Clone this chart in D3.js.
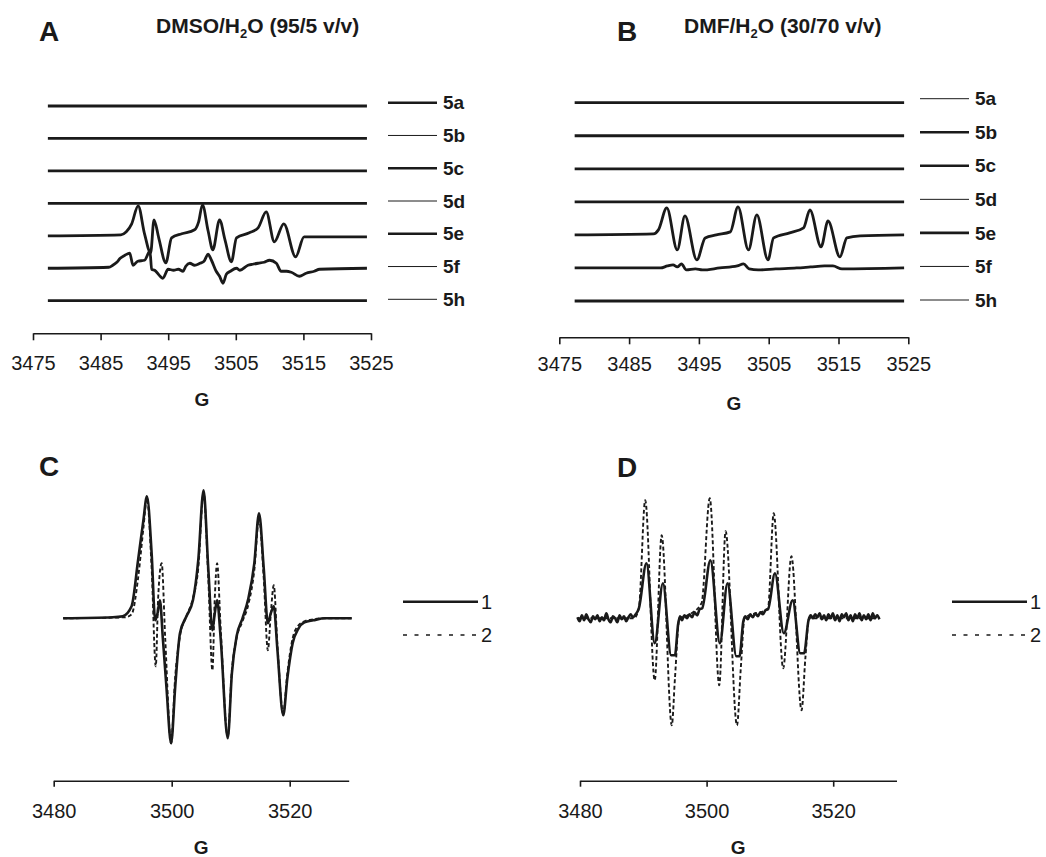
<!DOCTYPE html>
<html><head><meta charset="utf-8">
<script src="https://cdn.jsdelivr.net/npm/d3@7"></script>
<style>
body{margin:0;background:#fff}
svg{display:block}
text{font-family:"Liberation Sans",Arial,Helvetica,sans-serif;fill:#1a1a1a}
</style>
</head><body>
<svg id="chart" width="1046" height="857"></svg>
<script>
// ---------------- DATA ----------------
const seriesNames = ["5a","5b","5c","5d","5e","5f","5h"];
const ticksAB = [3475,3485,3495,3505,3515,3525];
const ticksCD = [3480,3500,3520];
const legendCD = ["1","2"];
const titleA = ["DMSO/H","2","O (95/5 v/v)"];
const titleB = ["DMF/H","2","O (30/70 v/v)"];

// panel A traces: [field G, signal (a.u.)]
const A_flat = [[3477.2,0],[3524.4,0]];
const A_5e = [[3477.2,0],[3488.0,1],[3488.8,4],[3489.6,12],[3490.55,30],[3491.5,2],[3492.4,-17],[3492.9,16],[3493.6,-2],[3494.65,-27],[3495.5,-2],[3497,2],[3498.9,6],[3499.5,14],[3500.07,31],[3500.9,5],[3501.6,-14],[3502.6,16],[3503.4,-4],[3504.35,-26],[3505.1,-2],[3507,3],[3508.3,8],[3509.5,24],[3510.7,-6],[3512.1,12],[3513.85,-21],[3515.1,-1],[3524.4,-1]];
const A_5f = [[3477.2,0],[3486.2,1],[3486.8,3],[3487.4,6],[3487.9,10],[3488.6,13],[3489.3,15],[3489.8,3],[3490.5,7],[3491.5,8],[3492.3,17],[3492.55,-1],[3493.0,-2],[3493.8,-8],[3494.2,-10],[3495.0,-1],[3495.8,-2],[3496.5,-1],[3497.2,-3],[3497.6,2],[3498.2,5],[3498.9,3],[3499.7,5],[3500.3,7],[3500.9,14],[3501.4,8],[3502.1,-3],[3502.6,-8],[3503.1,-15],[3503.6,-6],[3504.2,-3],[3505.1,0],[3505.6,-2],[3506.8,3],[3507.5,4],[3508.3,5],[3509.2,6],[3510,8],[3511,5],[3511.7,-3],[3512.5,-3],[3513.2,-4],[3514.4,-8],[3515.4,-5],[3516.6,-3],[3517.4,-1],[3524.4,0]];
const A_series = [A_flat,A_flat,A_flat,A_flat,A_5e,A_5f,A_flat];

// panel B traces
const B_flat = [[3477.2,0],[3524.4,0]];
const B_5e = [[3477.2,0],[3488.5,1],[3489.2,5],[3490.4,27],[3491.9,-15],[3493.0,19],[3494.7,-25],[3495.9,-3],[3497.5,0],[3499.5,3],[3500.6,28],[3502.1,-15],[3503.3,20],[3504.9,-25],[3505.7,-3],[3508,2],[3510,7],[3510.9,25],[3512.5,-12],[3513.5,14],[3515.2,-22],[3516.2,-3],[3518.1,-1],[3524.4,0]];
const B_5f = [[3477.2,0],[3489.5,0],[3490.5,2],[3491.3,3],[3491.9,1],[3492.5,4],[3493.2,-2],[3494.5,-1],[3495.5,-2],[3498,0],[3500.5,2],[3501.4,4],[3502.2,-1],[3503.5,-2],[3506,-1],[3509,0],[3511,1],[3513,2],[3514.2,2],[3515.5,-1],[3524.4,0]];
const B_series = [B_flat,B_flat,B_flat,B_flat,B_5e,B_5f,B_flat];

// panel C traces
const C_1 = [[3481.6,0],[3490,1],[3491.7,2],[3493.2,12],[3494.3,58],[3495.2,98],[3495.8,122],[3496.6,65],[3497.2,-2],[3497.6,5],[3498.0,18],[3498.5,-20],[3499.1,-68],[3499.9,-125],[3500.6,-68],[3501.4,-15],[3502.5,2],[3503.6,18],[3504.5,58],[3505.4,128],[3506.2,50],[3506.9,-12],[3507.3,5],[3507.7,18],[3508.3,-20],[3509.5,-120],[3510.2,-55],[3511,-18],[3512,0],[3513,20],[3514,55],[3514.8,105],[3515.6,50],[3516.3,-5],[3516.8,5],[3517.3,12],[3517.9,-30],[3518.9,-97],[3519.6,-60],[3520.5,-25],[3521.5,-10],[3522.5,-4],[3524,-2],[3526,0],[3530.5,0]];
const C_2 = [[3481.6,0],[3492,1],[3493.2,4],[3494.3,40],[3495.2,90],[3495.8,120],[3496.6,50],[3497.3,-48],[3497.7,20],[3498.3,55],[3498.9,-20],[3499.9,-125],[3500.6,-58],[3501.4,-18],[3502.5,2],[3503.5,18],[3504.5,50],[3505.4,126],[3506.2,40],[3506.9,-52],[3507.3,20],[3507.7,55],[3508.3,-10],[3509.5,-118],[3510.2,-52],[3511,-20],[3512,-3],[3513,14],[3514,48],[3514.8,100],[3515.6,40],[3516.3,-32],[3516.8,5],[3517.3,33],[3517.9,-25],[3518.9,-95],[3519.6,-55],[3520.5,-20],[3521.5,-7],[3522.5,-3],[3524,-1],[3526,0],[3530.5,0]];

// panel D traces
const D_1 = [[3479.6,1],[3479.95,-3],[3480.3,3],[3480.65,-2],[3481.0,4],[3481.35,-1],[3481.7,-4],[3482.05,2],[3482.4,-1],[3482.75,3],[3483.1,-3],[3483.45,1],[3483.8,-2],[3484.15,5],[3484.5,-1],[3484.85,-4],[3485.2,2],[3485.55,0],[3485.9,-4],[3486.25,3],[3486.6,-1],[3486.95,2],[3487.3,-3],[3487.65,1],[3488.0,4],[3488.35,1],[3488.8,4],[3489.3,10],[3490.5,55],[3491.8,-25],[3493.1,35],[3494.4,-37],[3495.0,-37],[3495.5,-6],[3495.8,2],[3496.1,-2],[3496.5,3],[3496.9,0],[3497.3,4],[3497.7,1],[3498.1,6],[3498.5,3],[3498.9,9],[3499.3,10],[3500.6,58],[3502.1,-25],[3503.3,35],[3504.7,-38],[3505.2,-38],[3505.8,-3],[3506.1,2],[3506.5,-1],[3506.9,4],[3507.3,1],[3507.7,5],[3508.1,2],[3508.5,6],[3508.9,4],[3509.3,8],[3509.7,9],[3510.8,45],[3512.2,-15],[3513.6,18],[3514.8,-35],[3515.4,-35],[3516.1,-2],[3516.45,3],[3516.8,0],[3517.15,4],[3517.5,1],[3517.85,5],[3518.2,-1],[3518.55,3],[3518.9,-2],[3519.25,4],[3519.6,0],[3519.95,5],[3520.3,-2],[3520.65,3],[3521.0,-3],[3521.35,4],[3521.7,1],[3522.05,5],[3522.4,-2],[3522.75,3],[3523.1,-3],[3523.45,4],[3523.8,0],[3524.15,5],[3524.5,-2],[3524.85,3],[3525.2,-1],[3525.55,4],[3525.9,-2],[3526.25,5],[3526.6,0],[3526.95,3],[3527.3,-1]];
const D_2 = [[3479.6,0],[3488.5,0],[3489.3,10],[3490.3,118],[3491.8,-62],[3492.9,83],[3494.5,-107],[3495.0,-60],[3495.7,0],[3497,3],[3499.2,15],[3500.5,120],[3502.0,-67],[3503.0,87],[3504.8,-107],[3505.4,-50],[3506,0],[3509.7,10],[3510.6,105],[3512.1,-50],[3513.4,62],[3515.0,-92],[3515.6,-40],[3516.2,0],[3527.3,0]];

// styles (separate from data)
const legendWidthA = [2.6,1,2.6,1,2.6,1,1];
const legendWidthB = [1,2.6,2.6,1,2.6,1,1];
const INK = "#1a1a1a";

// ---------------- DRAW ----------------
const svg = d3.select("#chart");
const curve = d3.curveMonotoneX;

function title(x, y, letter, parts, lx) {
  svg.append("text").attr("x", lx).attr("y", y + 8).attr("font-size", 28).attr("font-weight", "bold").text(letter);
  if (parts) {
    const t = svg.append("text").attr("x", x).attr("y", y).attr("font-size", 21).attr("font-weight", "bold");
    t.append("tspan").text(parts[0]);
    t.append("tspan").attr("font-size", 13).attr("dy", 5).text(parts[1]);
    t.append("tspan").attr("dy", -5).text(parts[2]);
  }
}

function axis(x, yAxis, ticks, tickSize, pad, gx) {
  const g = svg.append("g").attr("transform", `translate(0,${yAxis})`)
    .call(d3.axisBottom(x).tickValues(ticks).tickSize(tickSize).tickSizeOuter(0).tickPadding(pad).tickFormat(d3.format("d")));
  g.select(".domain").attr("stroke", INK).attr("stroke-width", 1.6);
  g.selectAll(".tick line").attr("stroke", INK).attr("stroke-width", 1.6);
  g.selectAll(".tick text").attr("font-size", 20).attr("fill", INK)
    .style("font-family", '"Liberation Sans",Arial,sans-serif');
  svg.append("text").attr("x", gx).attr("y", yAxis + 73).attr("text-anchor", "middle")
    .attr("font-size", 19).attr("font-weight", "bold").text("G");
}

function stacked(xRange, yRange, legRange, legX, series, legW, axisY, pad) {
  const x = d3.scaleLinear().domain([3475, 3525]).range(xRange);
  const yb = d3.scalePoint().domain(seriesNames).range(yRange);
  const yl = d3.scalePoint().domain(seriesNames).range(legRange);
  const amp = d3.scaleLinear().domain([-30, 30]).range([30, -30]);
  seriesNames.forEach((n, i) => {
    const line = d3.line().curve(curve).x(d => x(d[0])).y(d => yb(n) + amp(d[1]));
    svg.append("path").datum(series[i]).attr("d", line)
      .attr("fill", "none").attr("stroke", INK).attr("stroke-width", 2.8).attr("stroke-linejoin", "round");
    svg.append("line").attr("x1", legX).attr("x2", legX + 49).attr("y1", yl(n)).attr("y2", yl(n))
      .attr("stroke", INK).attr("stroke-width", legW[i]);
    svg.append("text").attr("x", legX + 55).attr("y", yl(n)).attr("dy", "0.35em")
      .attr("font-size", 19).attr("font-weight", "bold").text(n);
  });
  axis(x, axisY, ticksAB, 7, pad, (xRange[0] + xRange[1]) / 2);
}

function overlay(xRange, axisEnd, base, s1, s2, legX) {
  const x = d3.scaleLinear().domain([3480, 3530]).range(xRange);
  const y = d3.scaleLinear().domain([-130, 130]).range([base + 130, base - 130]);
  const line = d3.line().curve(curve).x(d => x(d[0])).y(d => y(d[1]));
  svg.append("path").datum(s1).attr("d", line).attr("fill", "none").attr("stroke", INK)
    .attr("stroke-width", 2.6).attr("stroke-linejoin", "round");
  svg.append("path").datum(s2).attr("d", line).attr("fill", "none").attr("stroke", INK)
    .attr("stroke-width", 1.9).attr("stroke-dasharray", "4,2.5").attr("stroke-linejoin", "round");
  const ly = d3.scalePoint().domain(legendCD).range([601.7, 635]);
  legendCD.forEach((k, i) => {
    svg.append("line").attr("x1", legX).attr("x2", legX + 75).attr("y1", ly(k)).attr("y2", ly(k))
      .attr("stroke", INK).attr("stroke-width", i === 0 ? 2.6 : 1.6)
      .attr("stroke-dasharray", i === 0 ? null : "4,7.5");
    svg.append("text").attr("x", legX + 78).attr("y", ly(k)).attr("dy", "0.35em")
      .attr("font-size", 20).text(k);
  });
  axis(x, 780.7, ticksCD, 6, 17, (xRange[0] + axisEnd) / 2);
}

title(156, 33, "A", titleA, 39);
title(684, 33, "B", titleB, 617);
title(0, 468, "C", null, 39);
title(0, 469, "D", null, 617);

stacked([33, 371], [106, 300.7], [102.7, 299.3], 388, A_series, legendWidthA, 333.3, 16);
stacked([559.3, 908.3], [102.7, 301], [98.7, 300], 920, B_series, legendWidthB, 337.3, 13);

overlay([53.7, 348.7], 348.7, 618.3, C_1, C_2, 403);
overlay([580, 896.5], 896.5, 618.3, D_1, D_2, 952);
</script>
</body></html>
